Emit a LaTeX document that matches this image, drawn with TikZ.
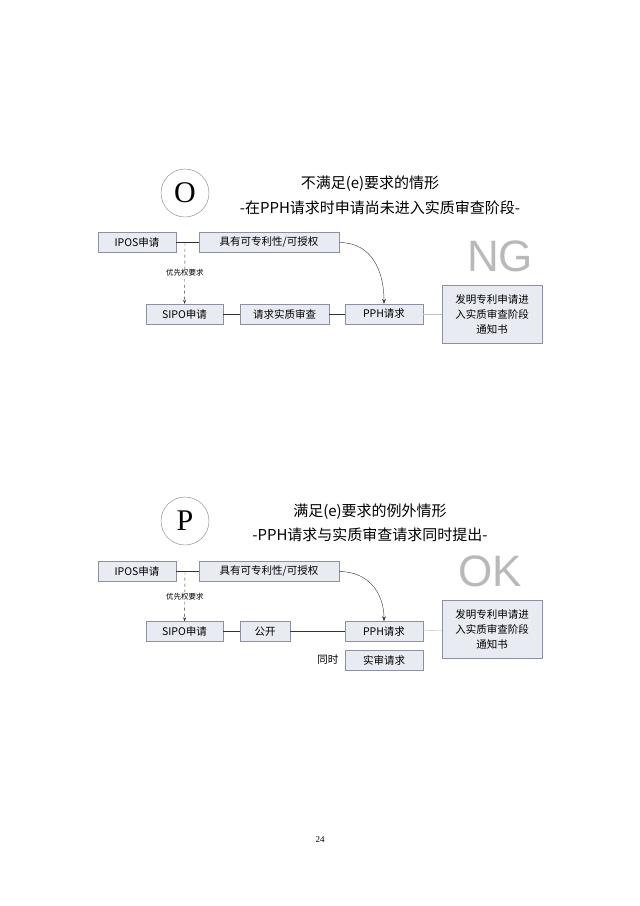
\documentclass[tikz,border=0pt]{standalone}
\usepackage{fontspec}
\setmainfont{Liberation Serif}
\newfontfamily\cjk{Noto Sans CJK SC}
\newfontfamily\latinsans{Liberation Sans}
\usepackage{tikz}
\usetikzlibrary{arrows.meta}
\usetikzlibrary{positioning}
\definecolor{boxfill}{HTML}{E9EBF3}
\definecolor{boxline}{HTML}{8C90A0}
\tikzset{% looks of the flow boxes
	flowbox/.style={draw=boxline, fill=boxfill, minimum height=20pt, inner sep=1pt, font=\cjk\fontsize{10.5}{12}\selectfont},
	notebox/.style={flowbox, minimum width=100pt, minimum height=58pt, align=center, font=\cjk\fontsize{10.5}{15}\selectfont},
	ring/.style={draw=gray, circle, minimum size=48pt, font=\fontsize{30}{32}\selectfont},
	verdict/.style={text=gray!55, font=\fontsize{44}{44}\latinsans\selectfont},
	title/.style={font=\cjk\fontsize{15}{17}\selectfont},
	link/.style={draw=black!80, thin}
}
\begin{document}
\begin{tikzpicture}[x=1pt,y=-1pt]
			\useasboundingbox[fill=white] (0,0) rectangle (640,906);
			% case O
			\node[ring] (circO) at (185,193) {O};
			\node[title] (titO) at (370,184) {不满足(e)要求的情形};
			\node[title] (subO) at (380,208) {-在PPH请求时申请尚未进入实质审查阶段-};
			\node[flowbox, minimum width=78pt] (iposO) at (137,242.5) {IPOS申请};
			\node[flowbox, minimum width=140pt] (patO) at (269,242.5) {具有可专利性/可授权};
			\node[flowbox, minimum width=77pt] (sipoO) at (184.5,314) {SIPO申请};
			\node[flowbox, minimum width=89pt] (examO) at (284.5,314) {请求实质审查};
			\node[flowbox, minimum width=78pt] (pphO) at (384,314) {PPH请求};
			\node[notebox] (noteO) at (492,314) {发明专利申请进\\入实质审查阶段\\通知书};
			\node[verdict] (ng) at (500,256) {NG};
			\coordinate (splitO) at (185,242.5);
			\draw[link] (iposO) -- (patO);
			\draw[link, dashed, -{Stealth[length=4pt]}] (splitO) -- node[fill=white, inner sep=1pt, font=\cjk\fontsize{7.5}{8}\selectfont] {优先权要求} (sipoO);
			\draw[link] (sipoO) -- (examO);
			\draw[link] (examO) -- (pphO);
			\draw[draw=gray!50] (pphO) -- (noteO);
			\draw[link, -{Stealth[length=5pt]}] (patO.east) to[out=0, in=90, looseness=1.1] (pphO.north);
			% case P
			\node[ring] (circP) at (185,521) {P};
			\node[title] (titP) at (370,512) {满足(e)要求的例外情形};
			\node[title] (subP) at (370,535) {-PPH请求与实质审查请求同时提出-};
			\node[flowbox, minimum width=78pt] (iposP) at (137,571.5) {IPOS申请};
			\node[flowbox, minimum width=140pt] (patP) at (269,571.5) {具有可专利性/可授权};
			\node[flowbox, minimum width=77pt] (sipoP) at (184.5,631.5) {SIPO申请};
			\node[flowbox, minimum width=50pt] (pubP) at (265,631.5) {公开};
			\node[flowbox, minimum width=78pt] (pphP) at (384,631.5) {PPH请求};
			\node[flowbox, minimum width=78pt] (reqP) at (384,660) {实审请求};
			\node[left=3pt of reqP, font=\cjk\fontsize{10.5}{12}\selectfont] (sameP) {同时};
			\node[notebox] (noteP) at (492,629.5) {发明专利申请进\\入实质审查阶段\\通知书};
			\node[verdict] (ok) at (490,571) {OK};
			\coordinate (splitP) at (185,571.5);
			\draw[link] (iposP) -- (patP);
			\draw[link, dashed, -{Stealth[length=4pt]}] (splitP) -- node[fill=white, inner sep=1pt, font=\cjk\fontsize{7.5}{8}\selectfont] {优先权要求} (sipoP);
			\draw[link] (sipoP) -- (pubP);
			\draw[link] (pubP) -- (pphP);
			\draw[draw=gray!50] (pphP) -- (noteP);
			\draw[link, -{Stealth[length=5pt]}] (patP.east) to[out=0, in=90, looseness=1.1] (pphP.north);
			% page number
			\node[font=\fontsize{9}{10}\selectfont] (page) at (320,840) {24};
		\end{tikzpicture}
\end{document}
